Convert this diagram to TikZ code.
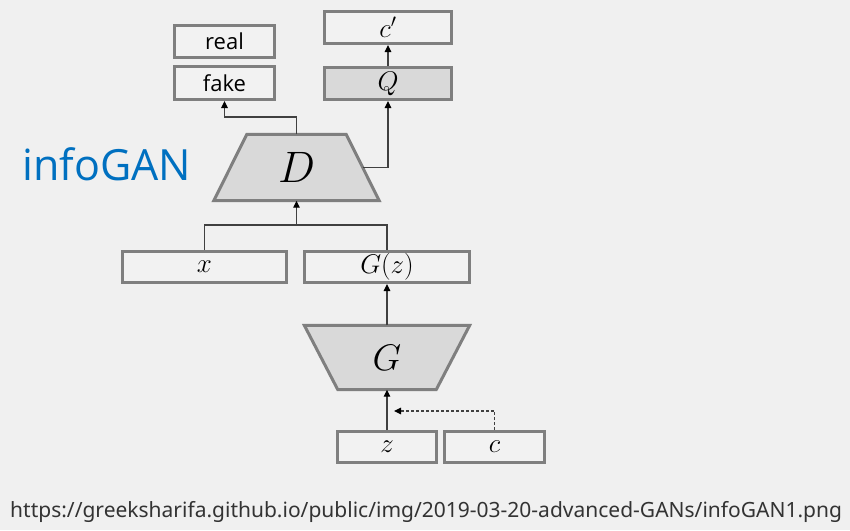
\RequirePackage{fix-cm}
\documentclass[tikz,border=0pt]{standalone}
\usepackage{fontspec}
\newfontfamily\uifont{Open Sans}
\newfontfamily\urlfont{Noto Sans}
\usetikzlibrary{arrows.meta,backgrounds}
\definecolor{bgc}{HTML}{F0F0F0}
\definecolor{boxgray}{HTML}{7F7F7F}
\definecolor{boxfill}{HTML}{F2F2F2}
\definecolor{darkfill}{HTML}{D9D9D9}
\definecolor{linec}{HTML}{404040}
\definecolor{titleblue}{HTML}{0070C0}
\definecolor{urlc}{HTML}{333333}
\tikzset{
  labbox/.style={draw=boxgray, line width=3pt, fill=boxfill, inner sep=0pt, minimum height=32pt},
  qbox/.style={labbox, fill=darkfill},
  trapnode/.style={inner sep=0pt},
  trapdraw/.style={draw=boxgray, line width=3pt, fill=darkfill, line join=miter},
  conn/.style={draw=linec, line width=1.2pt},
  arr/.style={conn, -{Triangle[length=7pt,width=6.5pt,fill=black,color=black]}},
  dasharr/.style={arr, dash pattern=on 3pt off 2pt},
  txtf/.style={font=\uifont\fontsize{22}{24}\selectfont},
  mathf/.style={font=\fontsize{27}{30}\selectfont},
}
\begin{document}
\begin{tikzpicture}[x=1pt,y=-1pt]
\begin{scope}[on background layer]
\fill[bgc] (0,0) rectangle (850,530);
\end{scope}
\useasboundingbox (0,0) rectangle (850,530);

% top boxes
\node[labbox, txtf, minimum width=100pt] (real) at (224.5,41.5) {real};
\node[labbox, txtf, minimum width=100pt, minimum height=33pt] (fake) at (224.5,83) {fake};
\node[labbox, mathf, minimum width=127pt] (cp) at (388,27.5) {$c'$};
\node[qbox, mathf, minimum width=127pt] (Q) at (388,83.5) {$Q$};

% D trapezoid
\node[trapnode, minimum width=165pt, minimum height=66pt, font=\fontsize{44}{50}\selectfont] (D) at (296.5,167.5) {$D$};
% middle boxes
\node[labbox, mathf, minimum width=164pt, minimum height=31pt] (x) at (204.5,267) {$x$};
\node[labbox, mathf, minimum width=165pt, minimum height=31pt] (Gz) at (387,267) {$G(z)$};
% G trapezoid
\node[trapnode, minimum width=165pt, minimum height=64pt, font=\fontsize{37}{42}\selectfont] (G) at (387,357.5) {$G$};
% bottom boxes
\node[labbox, mathf, minimum width=99pt, minimum height=31pt] (z) at (387,447) {$z$};
\node[labbox, mathf, minimum width=100pt, minimum height=31pt] (c) at (494.5,447) {$c$};

\begin{scope}[on background layer]
\draw[trapdraw] ([xshift=33pt]D.north west) -- ([xshift=-33pt]D.north east) -- (D.south east) -- (D.south west) -- cycle;
\draw[trapdraw] (G.north west) -- (G.north east) -- ([xshift=-33.5pt]G.south east) -- ([xshift=33.5pt]G.south west) -- cycle;
\end{scope}

% title and url
\node[anchor=base west, inner sep=0pt, text=titleblue, font=\uifont\fontsize{43}{48}\selectfont] (title) at (22,180) {infoGAN};
\node[anchor=base west, inner sep=0pt, text=urlc, font=\urlfont\fontsize{21}{24}\selectfont] (url) at (10,517) {https://greeksharifa.github.io/public/img/2019-03-20-advanced-GANs/infoGAN1.png};

% connectors
\coordinate (fk) at (296.5,117);
\draw[arr] (D.north) -- (fk) -| (fake.south);
\coordinate (Dr) at ([xshift=-16.5pt]D.east);
\draw[arr] (Dr) -| (Q.south);
\draw[arr] (Q.north) -- (cp.south);
\coordinate (mrg) at (296.5,225);
\draw[conn] (x.north) |- (mrg) -| (Gz.north);
\draw[arr] (mrg) -- (D.south);
\draw[arr] (G.north) -- (Gz.south);
\draw[arr] (z.north) -- (G.south);
\coordinate (dend) at (394,411);
\draw[dasharr] (c.north) |- (dend);
\end{tikzpicture}
\end{document}
